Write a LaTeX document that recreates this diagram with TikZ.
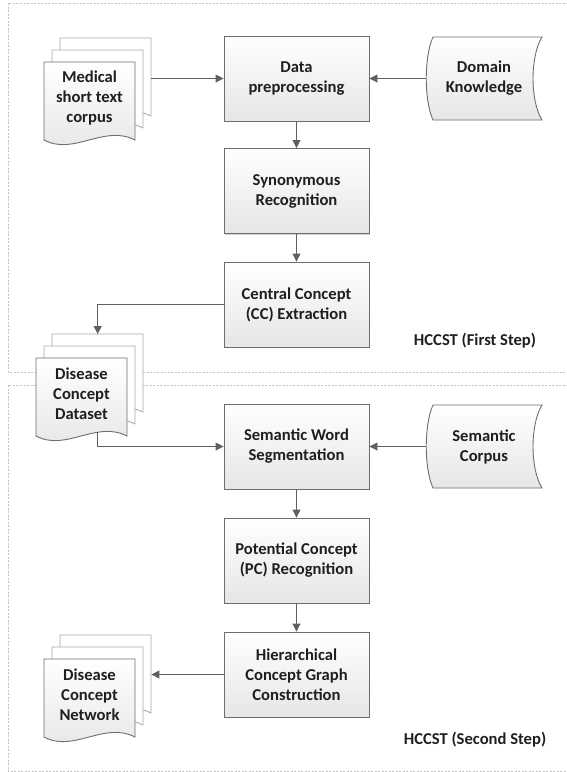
\documentclass[tikz,border=0pt]{standalone}
\usepackage{fontspec}
\setmainfont{Carlito}
\usetikzlibrary{arrows.meta,calc,shadows}
\definecolor{edgec}{HTML}{6E6E6E}
\definecolor{arrc}{HTML}{5F5F5F}
\definecolor{txtc}{HTML}{1F1F1F}
\definecolor{shadec}{HTML}{E6E6E6}
\definecolor{framec}{HTML}{C4C4C4}
\definecolor{backc}{HTML}{A8A8A8}

\newcommand\docpage[3]{%
  \path[#3,shift={(#1,#2)}] (0,0) -- (91,0) -- (91,78)
     .. controls (60,62) and (30,94) .. (0,78) -- cycle;}
\newcommand\storeshape[4]{% x1 y1 x2 y2 (outer extents)
  \path[storestyle] ($(#1,#2)+(7,0)$) -- (#3,#2)
     .. controls ($(#3,#2)!0.5!(#3,#4)+(-12,-22)$) and ($(#3,#2)!0.5!(#3,#4)+(-12,22)$) .. (#3,#4)
     -- ($(#1,#4)+(7,0)$)
     .. controls ($(#1,#2)!0.5!(#1,#4)+(-2,22)$) and ($(#1,#2)!0.5!(#1,#4)+(-2,-22)$) .. ($(#1,#2)+(7,0)$) -- cycle;}

\begin{document}
\begin{tikzpicture}[x=1pt,y=-1pt,
  lbl/.style={font=\fontsize{16.6}{20}\selectfont\bfseries, text=txtc, align=center},
  procbox/.style={lbl, draw=edgec, line width=0.9pt, minimum width=145pt, minimum height=85pt,
     top color=white, bottom color=shadec, inner sep=0pt,
     drop shadow={shadow xshift=1.3pt, shadow yshift=-1.3pt, fill=black!18, opacity=1}},
  arr/.style={draw=arrc, line width=0.9pt, -{Triangle[length=8pt,width=8pt]}},
  frm/.style={draw=framec, line width=0.7pt, dash pattern=on 2pt off 1.5pt},
  backpg/.style={draw=backc, line width=0.8pt, fill=white},
  frontpg/.style={draw=edgec, line width=0.9pt, top color=white, bottom color=shadec},
  storestyle/.style={draw=edgec, line width=0.9pt, top color=white, bottom color=shadec},
  pagebox/.style={minimum width=91pt, minimum height=78pt, inner sep=0pt, draw=none},
]
\useasboundingbox (0,0) rectangle (566,772);

% frames
\draw[frm] (575,3) -- (8,3) -- (8,372) -- (575,372);
\draw[frm] (575,385) -- (8,385) -- (8,771) -- (575,771);

% process boxes
\node[procbox] (data) at (296.5,78.5) {Data\\preprocessing};
\node[procbox] (syn)  at (296.5,191)  {Synonymous\\Recognition};
\node[procbox] (cc)   at (296.5,304.5) {Central Concept\\(CC) Extraction};
\node[procbox] (sem)  at (296.5,446.5) {Semantic Word\\Segmentation};
\node[procbox] (pc)   at (296.5,560.5) {Potential Concept\\(PC) Recognition};
\node[procbox] (hier) at (296.5,674.5) {Hierarchical\\Concept Graph\\Construction};

% stored data shapes
\storeshape{426}{37}{542}{120}
\node[lbl, minimum width=116pt, minimum height=83pt, inner sep=0pt] (dk) at (484,78.5) {Domain\\Knowledge};
\storeshape{426}{405}{542}{488}
\node[lbl, minimum width=116pt, minimum height=83pt, inner sep=0pt] (sc) at (484,446.5) {Semantic\\Corpus};

% document stacks
\docpage{60}{38}{backpg}
\docpage{52}{50}{backpg}
\docpage{44}{62}{frontpg}
\node[pagebox, anchor=north west] (medback) at (60,38) {};
\node[lbl] (med) at (89.5,98) {Medical\\short text\\corpus};

\docpage{52}{334}{backpg}
\docpage{44}{346}{backpg}
\docpage{36}{358}{frontpg}
\node[pagebox, anchor=north west] (dcdback) at (52,334) {};
\node[lbl] (dcd) at (81.5,394) {Disease\\Concept\\Dataset};

\docpage{60}{635}{backpg}
\docpage{52}{647}{backpg}
\docpage{44}{659}{frontpg}
\node[pagebox, anchor=north west] (dcnback) at (60,635) {};
\node[lbl] (dcn) at (89.5,695) {Disease\\Concept\\Network};

% step labels
\node[lbl] (s1) at (475,341) {HCCST (First Step)};
\node[lbl] (s2) at (475,740) {HCCST (Second Step)};

% connectors
\draw[arr] (data.west -| medback.east) -- (data.west);
\draw[arr] (dk.west) -- (data.east);
\draw[arr] (data.south) -- (syn.north);
\draw[arr] (syn.south) -- (cc.north);
\draw[arr] (cc.west) -| (dcdback.north);
\coordinate (dcdout) at (97.5,432);
\draw[arr] (dcdout) |- (sem.west);
\draw[arr] (sc.west) -- (sem.east);
\draw[arr] (sem.south) -- (pc.north);
\draw[arr] (pc.south) -- (hier.north);
\draw[arr] (hier.west) -- (hier.west -| dcnback.east);
\end{tikzpicture}
\end{document}
